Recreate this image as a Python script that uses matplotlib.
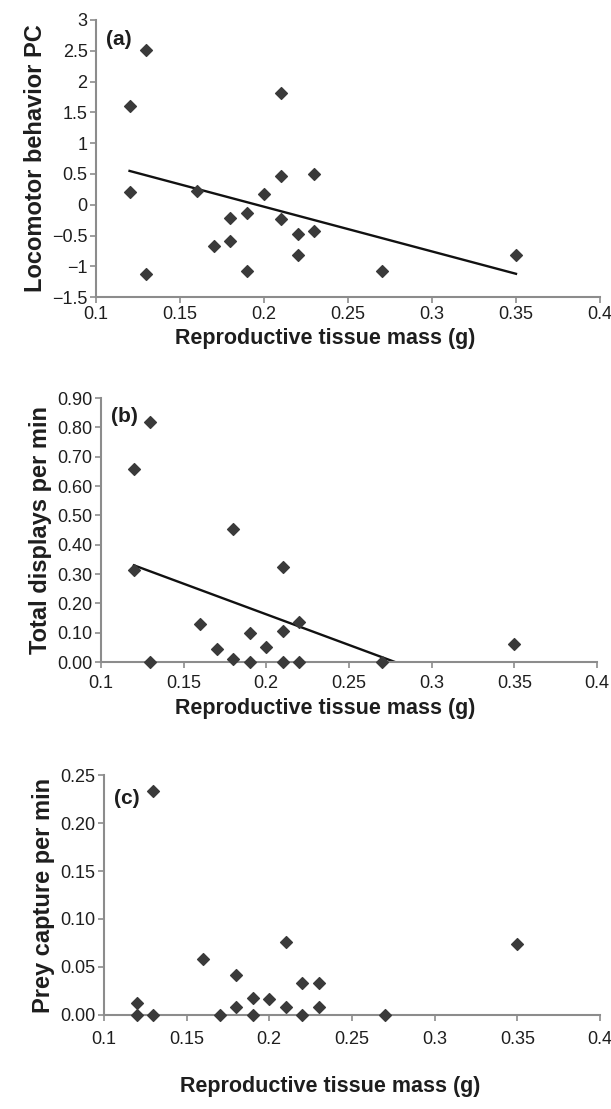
import numpy as np
import matplotlib
matplotlib.use("Agg")
import matplotlib.pyplot as plt
from matplotlib.ticker import FuncFormatter

plt.rcParams['font.family'] = ['Liberation Sans', 'DejaVu Sans']

# reproductive tissue mass (g) and responses
mass_a = [0.12, 0.12, 0.13, 0.13, 0.16, 0.17, 0.18, 0.18, 0.19, 0.19,
          0.20, 0.21, 0.21, 0.21, 0.22, 0.22, 0.23, 0.23, 0.27, 0.35]
locomotor = [1.60, 0.20, 2.52, -1.12, 0.22, -0.67, -0.21, -0.59, -0.13, -1.07,
             0.17, 1.82, 0.47, -0.23, -0.47, -0.81, 0.50, -0.42, -1.07, -0.81]
line_a_x = [0.12, 0.35]
line_a_y = [0.55, -1.12]

mass_b = [0.12, 0.12, 0.13, 0.13, 0.16, 0.17, 0.18, 0.18, 0.19, 0.19,
          0.20, 0.21, 0.21, 0.21, 0.22, 0.22, 0.27, 0.35]
displays = [0.66, 0.315, 0.82, 0.00, 0.13, 0.045, 0.455, 0.01, 0.10, 0.00,
            0.05, 0.325, 0.105, 0.00, 0.135, 0.00, 0.00, 0.06]
line_b_x = [0.12, 0.278]
line_b_y = [0.33, 0.00]

mass_c = [0.12, 0.12, 0.13, 0.13, 0.16, 0.17, 0.18, 0.18, 0.19, 0.19,
          0.20, 0.21, 0.21, 0.22, 0.22, 0.23, 0.23, 0.27, 0.35]
prey = [0.012, 0.000, 0.234, 0.000, 0.058, 0.000, 0.041, 0.008, 0.017, 0.000,
        0.016, 0.076, 0.008, 0.033, 0.000, 0.033, 0.008, 0.000, 0.074]

x_ticks = [0.1, 0.15, 0.2, 0.25, 0.3, 0.35, 0.4]
x_labels = ['0.1', '0.15', '0.2', '0.25', '0.3', '0.35', '0.4']

fig = plt.figure(figsize=(6.11, 11.09), dpi=100)
ax_a = fig.add_axes([0.157, 0.732, 0.825, 0.250])
ax_b = fig.add_axes([0.165, 0.403, 0.812, 0.238])
ax_c = fig.add_axes([0.170, 0.085, 0.812, 0.216])

gray = '#8c8c8c'
mcol = '#3a3a3a'
txt = '#1e1e1e'


def style(ax, xpad=2):
    for s in ['top', 'right']:
        ax.spines[s].set_visible(False)
    for s in ['left', 'bottom']:
        ax.spines[s].set_color(gray)
        ax.spines[s].set_linewidth(1.5)
    ax.tick_params(colors=gray, labelcolor=txt, labelsize=13,
                   length=4, width=1.2, pad=2)
    ax.tick_params(axis='x', pad=xpad)
    ax.set_xlim(0.1, 0.4)
    ax.set_xticks(x_ticks)
    ax.set_xticklabels(x_labels)
    ax.set_xlabel('Reproductive tissue mass (g)', fontsize=15.5,
                  fontweight='bold', color=txt)


# (a)
ax_a.scatter(mass_a, locomotor, marker='D', s=36, color=mcol, zorder=3)
ax_a.plot(line_a_x, line_a_y, color='#111111', lw=1.7)
ax_a.set_ylim(-1.5, 3)
ax_a.set_yticks(np.arange(-1.5, 3.01, 0.5))
ax_a.yaxis.set_major_formatter(FuncFormatter(
    lambda v, p: ('%g' % v).replace('-', '\u2212')))
ax_a.set_ylabel('Locomotor behavior PC', fontsize=17, fontweight='bold',
                color=txt, labelpad=4)
style(ax_a)
# xlabel sits a little left of the axes centre, as in the original
ax_a.xaxis.set_label_coords(0.455, -0.11)
ax_a.text(0.02, 0.91, '(a)', transform=ax_a.transAxes, fontsize=15,
          fontweight='bold', color=txt)

# (b)
ax_b.scatter(mass_b, displays, marker='D', s=36, color=mcol, zorder=3,
             clip_on=False)
ax_b.plot(line_b_x, line_b_y, color='#111111', lw=1.7)
ax_b.set_ylim(0, 0.9)
ax_b.set_yticks(np.arange(0, 0.91, 0.1))
ax_b.yaxis.set_major_formatter(FuncFormatter(lambda v, p: '%.2f' % v))
ax_b.set_ylabel('Total displays per min', fontsize=17, fontweight='bold',
                color=txt, labelpad=4)
style(ax_b, xpad=5)
ax_b.xaxis.set_label_coords(0.452, -0.135)
ax_b.text(0.02, 0.91, '(b)', transform=ax_b.transAxes, fontsize=15,
          fontweight='bold', color=txt)

# (c)
ax_c.scatter(mass_c, prey, marker='D', s=36, color=mcol, zorder=3,
             clip_on=False)
ax_c.set_ylim(0, 0.25)
ax_c.set_yticks(np.arange(0, 0.251, 0.05))
ax_c.yaxis.set_major_formatter(FuncFormatter(lambda v, p: '%.2f' % v))
ax_c.set_ylabel('Prey capture per min', fontsize=17, fontweight='bold',
                color=txt, labelpad=4)
style(ax_c, xpad=8)
ax_c.xaxis.set_label_coords(0.456, -0.255)
ax_c.text(0.02, 0.88, '(c)', transform=ax_c.transAxes, fontsize=15,
          fontweight='bold', color=txt)

fig.savefig('out.png', dpi=100)
